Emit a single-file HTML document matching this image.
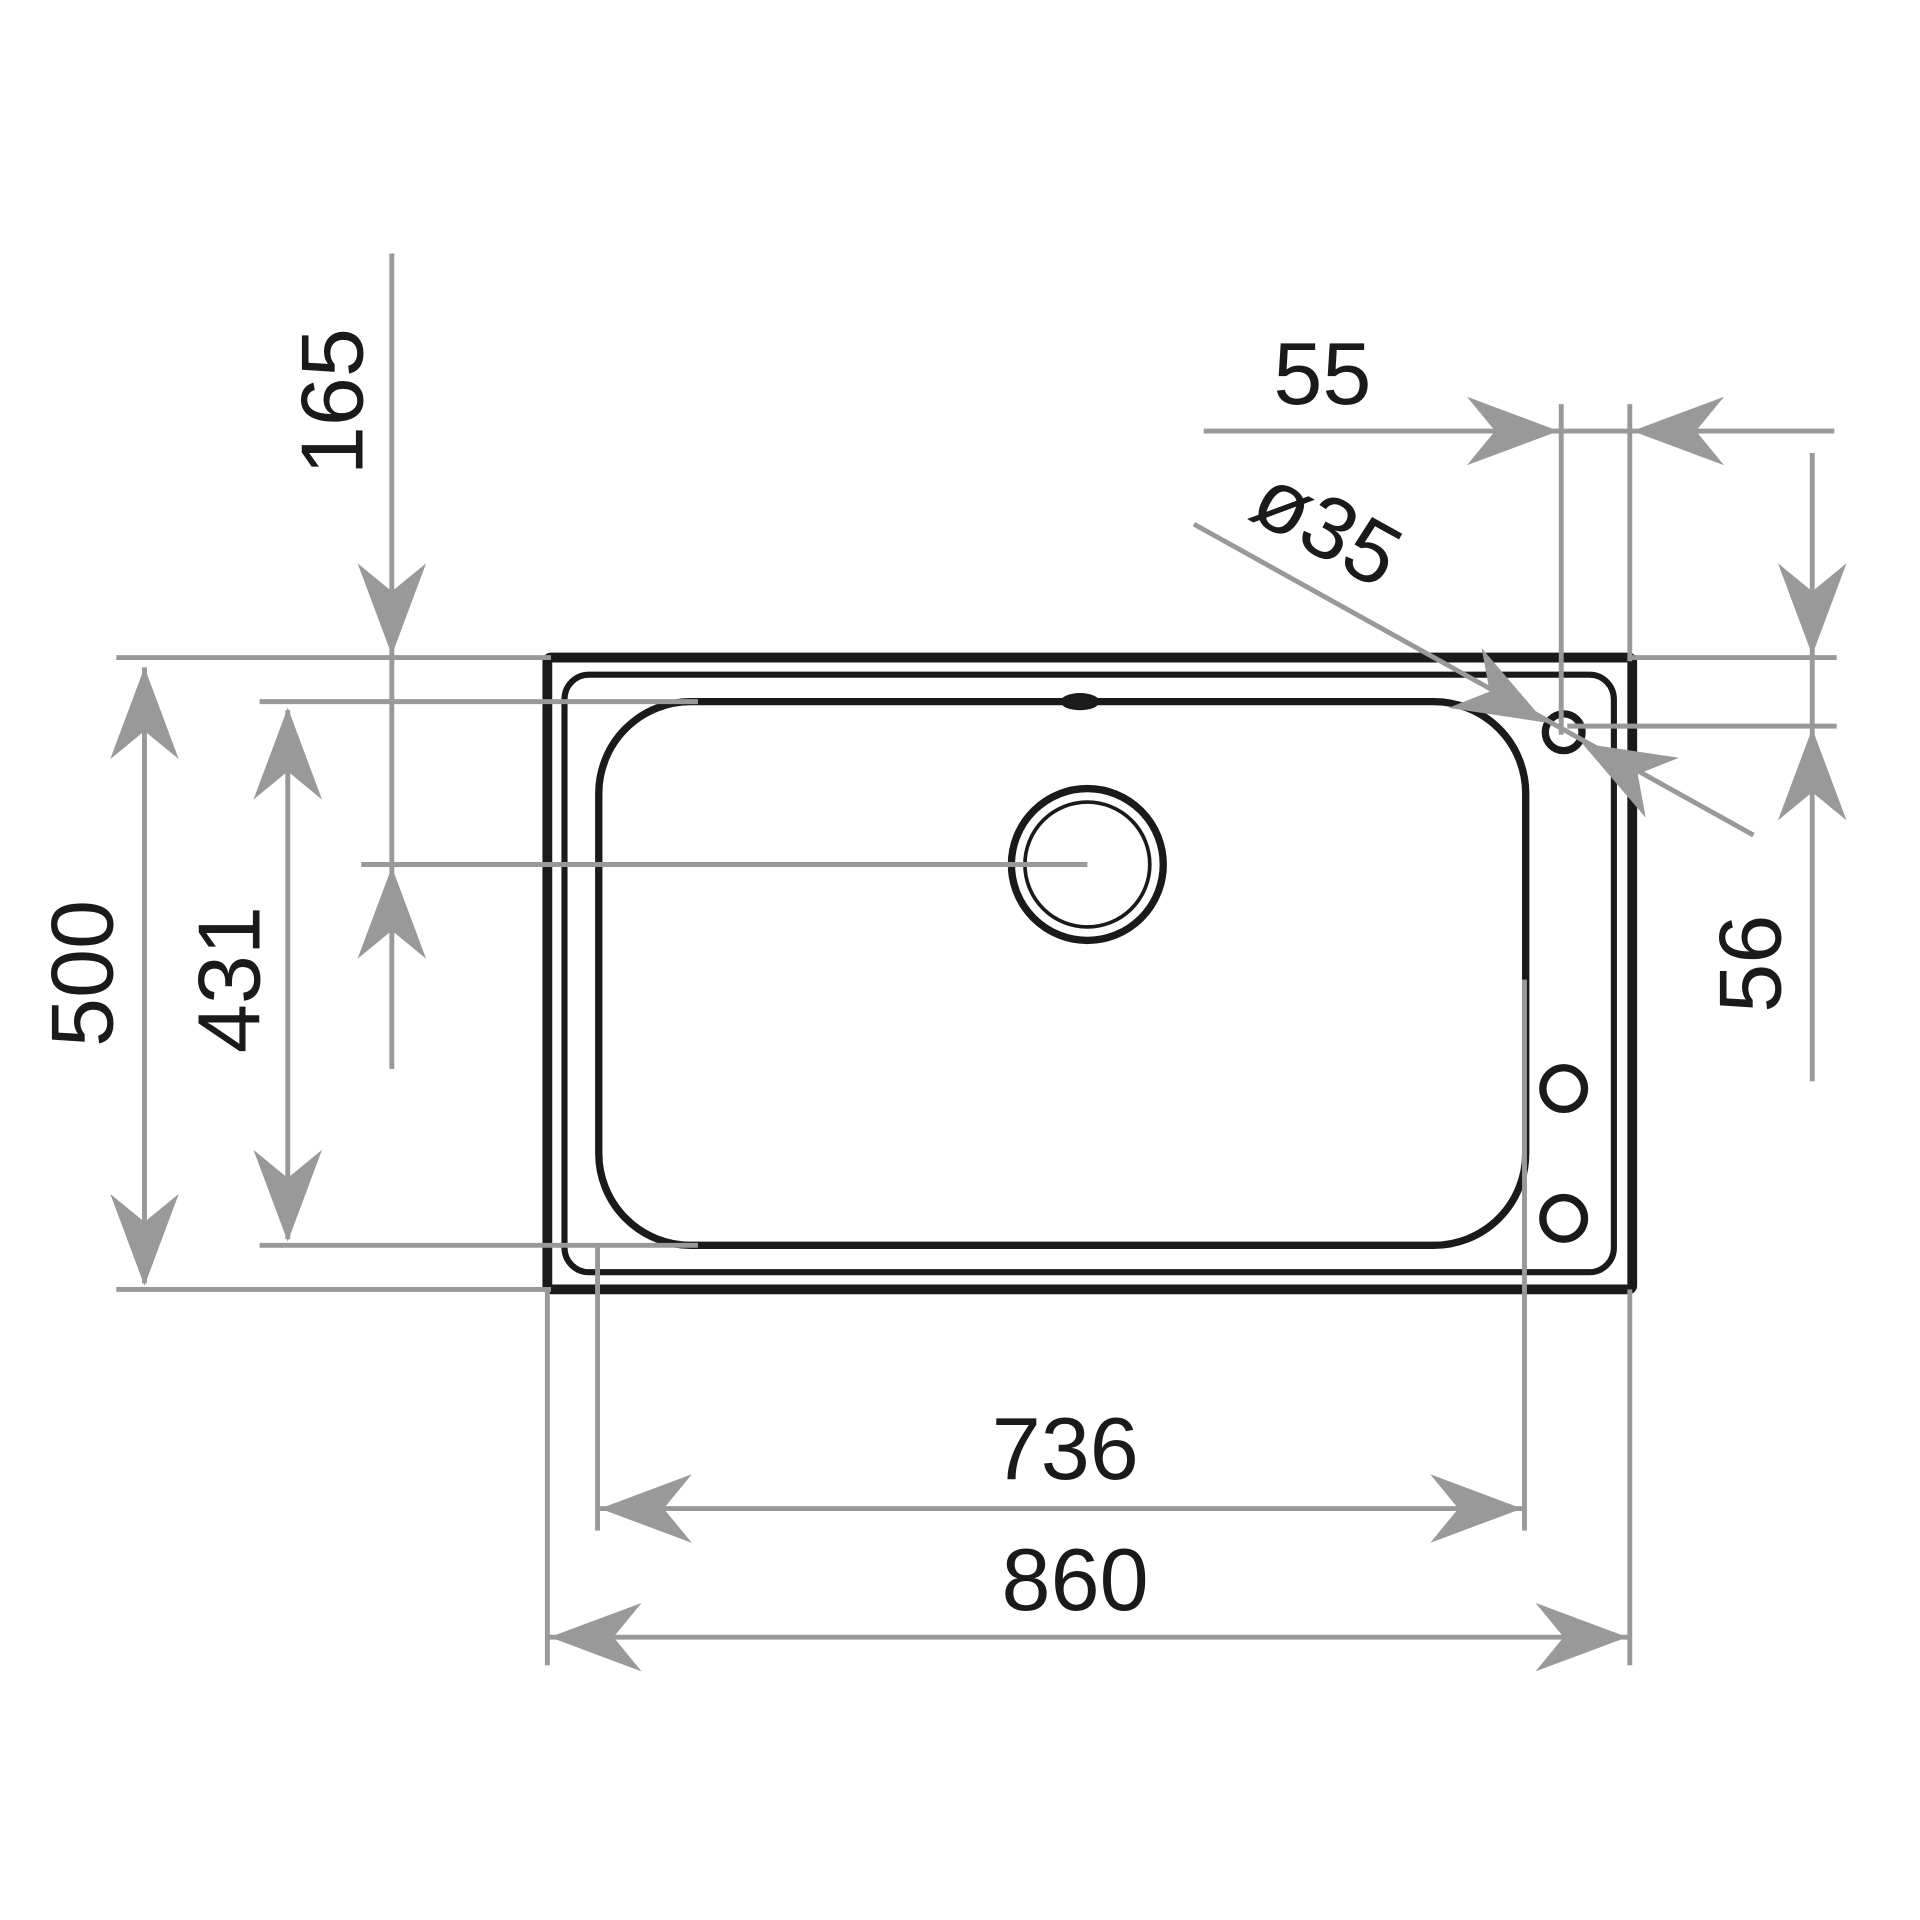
<!DOCTYPE html>
<html><head><meta charset="utf-8"><style>
html,body{margin:0;padding:0;background:#fff;}
svg{display:block;}
text{font-family:"Liberation Sans",sans-serif;font-size:72px;fill:#1a1a1a;}
</style></head><body>
<svg width="1920" height="1920" viewBox="0 0 1568 1568" xmlns="http://www.w3.org/2000/svg">
<defs>
<path id="ar" d="M0,0 L-75,-28 L-52,0 L-75,28 Z" fill="#999"/>
</defs>
<g fill="none" stroke="#1a1a1a">
<rect x="447" y="537" width="886" height="516" stroke-width="8" rx="3"/>
<rect x="461" y="551" width="857" height="488" stroke-width="5" rx="20"/>
<rect x="489" y="573" width="757" height="444" stroke-width="6" rx="75"/>
<circle cx="888" cy="706" r="62" stroke-width="6"/>
<circle cx="888" cy="706" r="51" stroke-width="3"/>
<circle cx="1277" cy="598" r="15" stroke-width="6"/>
<circle cx="1277" cy="889" r="17" stroke-width="6"/>
<circle cx="1277" cy="995" r="17" stroke-width="6"/>
</g>
<ellipse cx="882" cy="573" rx="16" ry="7" fill="#1a1a1a"/>
<g stroke="#999" stroke-width="4" fill="none">
<line x1="95" y1="537" x2="450" y2="537"/>
<line x1="95" y1="1053" x2="450" y2="1053"/>
<line x1="212" y1="573" x2="570" y2="573"/>
<line x1="212" y1="1017" x2="570" y2="1017"/>
<line x1="295" y1="706" x2="888" y2="706"/>
<line x1="118" y1="545" x2="118" y2="1048"/>
<line x1="235" y1="580" x2="235" y2="1012"/>
<line x1="320" y1="207" x2="320" y2="873"/>
<line x1="983" y1="352" x2="1498" y2="352"/>
<line x1="1275" y1="330" x2="1275" y2="600"/>
<line x1="1331" y1="330" x2="1331" y2="540"/>
<line x1="1331" y1="537" x2="1500" y2="537"/>
<line x1="1280" y1="593" x2="1500" y2="593"/>
<line x1="1480" y1="370" x2="1480" y2="883"/>
<line x1="975" y1="428" x2="1432" y2="682"/>
<line x1="488" y1="1017" x2="488" y2="1250"/>
<line x1="1245" y1="800" x2="1245" y2="1250"/>
<line x1="488" y1="1232" x2="1245" y2="1232"/>
<line x1="447" y1="1053" x2="447" y2="1360"/>
<line x1="1331" y1="1053" x2="1331" y2="1360"/>
<line x1="447" y1="1337" x2="1331" y2="1337"/>
</g>
<use href="#ar" transform="translate(118,545) rotate(-90)"/>
<use href="#ar" transform="translate(118,1050) rotate(90)"/>
<use href="#ar" transform="translate(235,578) rotate(-90)"/>
<use href="#ar" transform="translate(235,1014) rotate(90)"/>
<use href="#ar" transform="translate(320,535) rotate(90)"/>
<use href="#ar" transform="translate(320,708) rotate(-90)"/>
<use href="#ar" transform="translate(1273,352)"/>
<use href="#ar" transform="translate(1333,352) rotate(180)"/>
<use href="#ar" transform="translate(1480,535) rotate(90)"/>
<use href="#ar" transform="translate(1480,595) rotate(-90)"/>
<use href="#ar" transform="translate(1262,590) rotate(29)"/>
<use href="#ar" transform="translate(1292,607) rotate(209)"/>
<use href="#ar" transform="translate(490,1232) rotate(180)"/>
<use href="#ar" transform="translate(1243,1232)"/>
<use href="#ar" transform="translate(449,1337) rotate(180)"/>
<use href="#ar" transform="translate(1329,1337)"/>
<text x="1080" y="330" text-anchor="middle">55</text>
<text x="870" y="1208" text-anchor="middle">736</text>
<text x="878" y="1315" text-anchor="middle">860</text>
<text transform="translate(92,795) rotate(-90)" text-anchor="middle">500</text>
<text transform="translate(212,800) rotate(-90)" text-anchor="middle">431</text>
<text transform="translate(296,328) rotate(-90)" text-anchor="middle">165</text>
<text transform="translate(1454,787) rotate(-90)" text-anchor="middle">56</text>
<text transform="translate(1072,452) rotate(29)" text-anchor="middle">ø35</text>
</svg>
</body></html>
